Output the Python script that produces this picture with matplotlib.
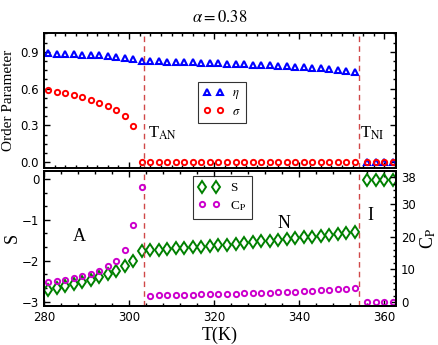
import matplotlib
matplotlib.use("Agg")
import matplotlib.pyplot as plt
from matplotlib.ticker import MultipleLocator, AutoMinorLocator

plt.rcParams['font.family'] = ['Liberation Serif', 'DejaVu Serif']
plt.rcParams['mathtext.fontset'] = 'stix'

# temperatures (K): smectic-A, nematic, isotropic points
T_A = [281, 283, 285, 287, 289, 291, 293, 295, 297, 299, 301]
T_N = [303, 305, 307, 309, 311, 313, 315, 317, 319, 321, 323, 325, 327,
       329, 331, 333, 335, 337, 339, 341, 343, 345, 347, 349, 351, 353]
T_I = [356, 358, 360, 362]

eta_A = [0.887, 0.885, 0.883, 0.880, 0.877, 0.874, 0.870, 0.866, 0.860, 0.852, 0.840]
eta_N = [0.826, 0.823, 0.821, 0.819, 0.817, 0.815, 0.813, 0.811, 0.809, 0.806, 0.803,
         0.800, 0.797, 0.794, 0.791, 0.788, 0.785, 0.781, 0.778, 0.774, 0.770, 0.765,
         0.760, 0.754, 0.746, 0.735]
eta_I = [0.0, 0.0, 0.0, 0.0]

sigma_A = [0.587, 0.573, 0.560, 0.545, 0.527, 0.507, 0.485, 0.458, 0.423, 0.374, 0.292]
sigma_N = [0.0, 0.0, 0.0, 0.0, 0.0, 0.0, 0.0, 0.0, 0.0, 0.0, 0.0, 0.0, 0.0,
           0.0, 0.0, 0.0, 0.0, 0.0, 0.0, 0.0, 0.0, 0.0, 0.0, 0.0, 0.0, 0.0]
sigma_I = [0.0, 0.0, 0.0, 0.0]

S_A = [-2.72, -2.67, -2.62, -2.56, -2.51, -2.46, -2.40, -2.33, -2.25, -2.13, -2.00]
S_N = [-1.76, -1.75, -1.73, -1.72, -1.70, -1.69, -1.67, -1.66, -1.64, -1.62, -1.61,
       -1.59, -1.57, -1.55, -1.53, -1.51, -1.49, -1.47, -1.45, -1.43, -1.41, -1.39,
       -1.37, -1.35, -1.32, -1.29]
S_I = [-0.02, -0.02, -0.02, -0.02]

Cp_A = [6.1, 6.4, 6.9, 7.4, 8.0, 8.7, 9.6, 11.1, 12.7, 15.9, 23.5]
Cp_N = [35.2, 2.0, 2.1, 2.2, 2.3, 2.3, 2.4, 2.5, 2.5, 2.6, 2.7, 2.7, 2.8,
        2.9, 2.9, 3.0, 3.1, 3.2, 3.3, 3.4, 3.5, 3.7, 3.8, 4.0, 4.2, 4.5]
Cp_I = [0.0, 0.0, 0.0, 0.0]

T_AN = 303.5
T_NI = 353.9

T = T_A + T_N + T_I
eta = eta_A + eta_N + eta_I
sigma = sigma_A + sigma_N + sigma_I
S = S_A + S_N + S_I
Cp = Cp_A + Cp_N + Cp_I

fig = plt.figure(figsize=(4.39, 3.45), dpi=100)
ax1 = fig.add_axes([0.1002, 0.5122, 0.8018, 0.393])
ax2 = fig.add_axes([0.1002, 0.1139, 0.8018, 0.3913])
ax3 = ax2.twinx()

line_col = '#d04848'

# upper panel: order parameters
h_eta, = ax1.plot(T, eta, ls='none', marker='^', ms=5, mew=1.5, mfc='none',
                  mec='#0000ff', label=r'$\eta$')
h_sig, = ax1.plot(T, sigma, ls='none', marker='o', ms=3.8, mew=1.4, mfc='none',
                  mec='#ff0000', label=r'$\sigma$')
for tx in (T_AN, T_NI):
    ax1.axvline(tx, color=line_col, ls='--', lw=1.0, dashes=(4, 3))
ax1.set_xlim(280, 362.7)
ax1.set_ylim(-0.05, 1.055)
ax1.set_yticks([0.0, 0.3, 0.6, 0.9])
ax1.yaxis.set_minor_locator(AutoMinorLocator(4))
ax1.xaxis.set_major_locator(MultipleLocator(20))
ax1.xaxis.set_minor_locator(MultipleLocator(2.5))
ax1.tick_params(axis='x', labelbottom=False)
ax1.set_ylabel('Order Parameter', fontsize=11, labelpad=4)
ax1.text(304.5, 0.235, r'T$_{\rm AN}$', fontsize=12, va='center', ha='left')
ax1.text(354.2, 0.235, r'T$_{\rm NI}$', fontsize=12, va='center', ha='left')
ax1.set_title(r'$\alpha=0.38$', fontsize=12, pad=8)
leg1 = ax1.legend(handles=[h_eta, h_sig], loc='upper left', bbox_to_anchor=(0.437, 0.64),
                  numpoints=2, fontsize=9, frameon=True, fancybox=False,
                  edgecolor='black', handlelength=1.6, handletextpad=0.7,
                  borderpad=0.45, labelspacing=0.35, borderaxespad=0)
leg1.get_frame().set_linewidth(0.8)

# lower panel: entropy and heat capacity
h_S, = ax2.plot(T, S, ls='none', marker='d', ms=6, mew=1.4, mfc='none',
                mec='#008000', label='S')
h_cp, = ax3.plot(T, Cp, ls='none', marker='o', ms=3.8, mew=1.4, mfc='none',
                 mec='#cc00cc', label=r'C$_{\rm P}$')
for tx in (T_AN, T_NI):
    ax2.axvline(tx, color=line_col, ls='--', lw=1.0, dashes=(4, 3))
ax2.set_xlim(280, 362.7)
ax2.set_ylim(-3.1, 0.2)
ax3.set_ylim(-1, 40)
ax2.set_yticks([0, -1, -2, -3])
ax2.set_yticklabels(['0', '\u22121', '\u22122', '\u22123'])
ax2.yaxis.set_minor_locator(AutoMinorLocator(3))
ax3.set_yticks([0, 10, 20, 30, 38])
ax3.yaxis.set_minor_locator(MultipleLocator(2))
ax2.xaxis.set_major_locator(MultipleLocator(20))
ax2.xaxis.set_minor_locator(MultipleLocator(4))
ax2.set_xlabel('T(K)', fontsize=13, labelpad=2)
ax2.set_ylabel('S', fontsize=13, labelpad=1)
ax3.set_ylabel(r'C$_{\rm P}$', fontsize=13, labelpad=2)
ax2.text(288.2, -1.41, 'A', fontsize=13, ha='center', va='center')
ax2.text(336.4, -1.08, 'N', fontsize=13, ha='center', va='center')
ax2.text(356.6, -0.9, 'I', fontsize=13, ha='center', va='center')
leg2 = ax2.legend(handles=[h_S, h_cp], loc='upper left', bbox_to_anchor=(0.422, 0.96),
                  numpoints=2, fontsize=9.5, frameon=True, fancybox=False,
                  edgecolor='black', handlelength=1.6, handletextpad=0.8,
                  borderpad=0.45, labelspacing=0.35, borderaxespad=0)
leg2.get_frame().set_linewidth(0.8)

for ax in (ax1, ax2, ax3):
    for sp in ax.spines.values():
        sp.set_linewidth(1.4)
    for lab in ax.get_xticklabels() + ax.get_yticklabels():
        lab.set_fontfamily('DejaVu Sans')
        lab.set_fontsize(8.5)
ax1.tick_params(which='both', direction='in', top=True, right=True, width=1.0)
ax1.tick_params(which='major', length=4)
ax1.tick_params(which='minor', length=2)
ax2.tick_params(which='both', direction='in', top=True, width=1.0)
ax2.tick_params(which='major', length=4)
ax2.tick_params(which='minor', length=2)
ax3.tick_params(which='both', direction='in', width=1.0)
ax3.tick_params(which='major', length=4)
ax3.tick_params(which='minor', length=2)

fig.savefig('out.png', dpi=100)
